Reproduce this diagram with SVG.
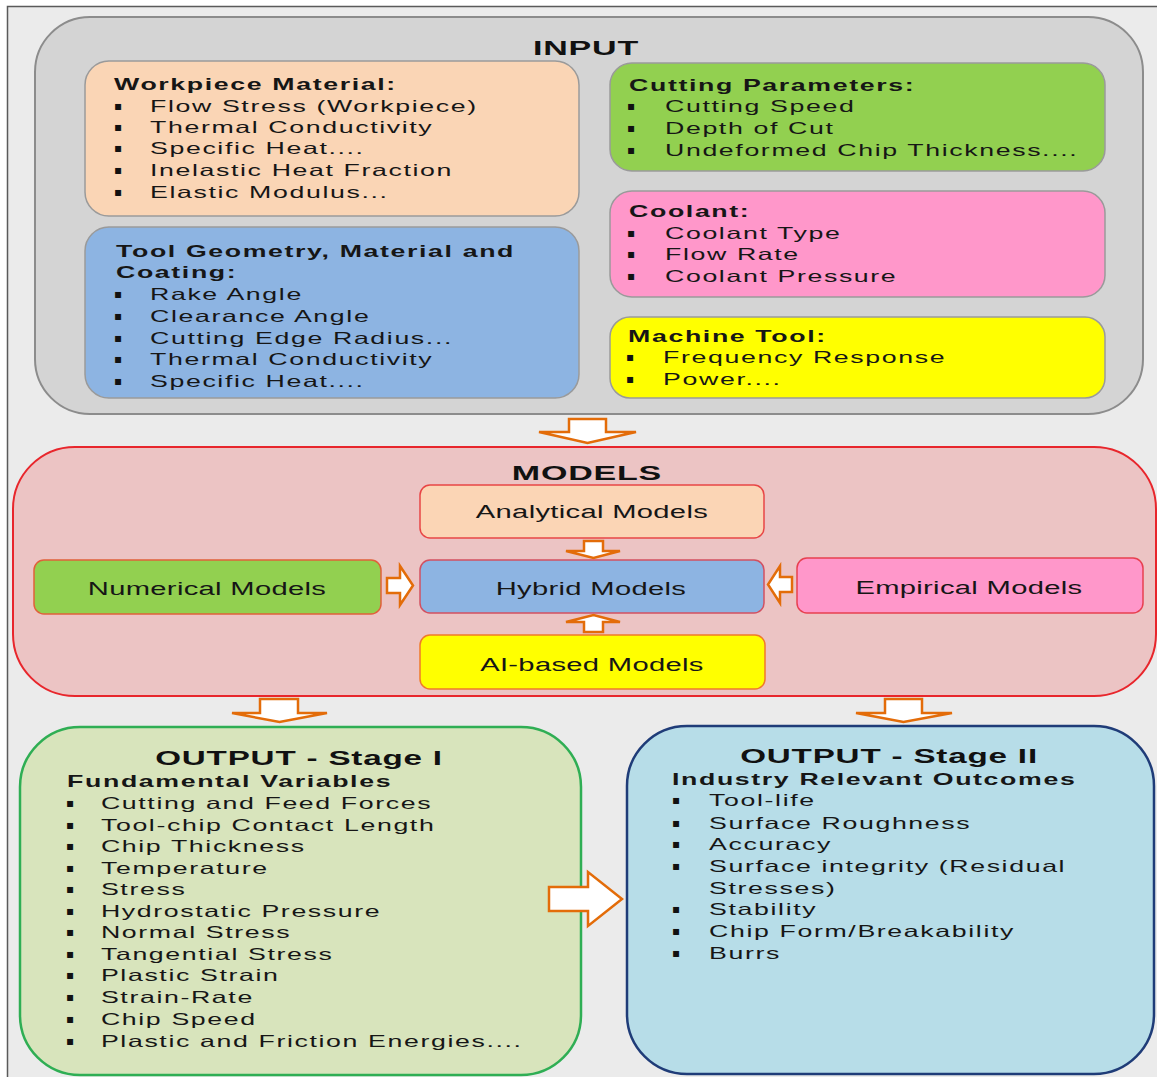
<svg xmlns="http://www.w3.org/2000/svg" width="1157" height="1077" viewBox="0 0 1157 1077">
<defs>
<style>
.t{font-family:"Liberation Sans",Arial,sans-serif;font-size:16.5px;letter-spacing:1px;fill:#161616}
.h{font-weight:bold}
.ttl{font-family:"Liberation Sans",Arial,sans-serif;font-size:21px;font-weight:bold;letter-spacing:0.5px;fill:#111;text-anchor:middle}
.ttl2{font-family:"Liberation Sans",Arial,sans-serif;font-size:20.5px;font-weight:bold;letter-spacing:0.5px;fill:#111;text-anchor:middle}
.m{font-family:"Liberation Sans",Arial,sans-serif;font-size:18px;letter-spacing:0.2px;fill:#161616;text-anchor:middle}
.bul{font-family:"DejaVu Sans",sans-serif;font-size:12px;fill:#111}
.box{stroke:#9a9a9a;stroke-width:1.5}
.arr{fill:#ffffff;stroke:#e36c09;stroke-width:2.5;stroke-linejoin:miter}
</style>
</defs>
<rect x="7.5" y="6.5" width="1160" height="1080" fill="#ebebeb" stroke="#5a5a5a" stroke-width="1.5"/>

<g id="input">
<rect x="35" y="17" width="1108" height="397" rx="55" fill="#d4d4d4" stroke="#8c8c8c" stroke-width="2"/>
<g transform="scale(1.62 1)"><text class="ttl" x="361.7" y="55">INPUT</text></g>
</g>

<g id="workpiece">
<rect class="box" x="85" y="61" width="494" height="155" rx="24" fill="#fad5b5"/>
<g transform="scale(1.62 1)">
<text class="t h" x="70.4" y="90">Workpiece Material:</text>
<text class="t" x="92.6" y="112">Flow Stress (Workpiece)</text>
<text class="t" x="92.6" y="133">Thermal Conductivity</text>
<text class="t" x="92.6" y="154">Specific Heat....</text>
<text class="t" x="92.6" y="176">Inelastic Heat Fraction</text>
<text class="t" x="92.6" y="198">Elastic Modulus...</text>
</g>
<text class="bul" x="114" y="110">▪</text><text class="bul" x="114" y="131">▪</text><text class="bul" x="114" y="152">▪</text><text class="bul" x="114" y="174">▪</text><text class="bul" x="114" y="196">▪</text>
</g>

<g id="tool">
<rect class="box" x="85" y="227" width="494" height="171" rx="24" fill="#8db4e2"/>
<g transform="scale(1.62 1)">
<text class="t h" x="71.6" y="257">Tool Geometry, Material and</text>
<text class="t h" x="71.6" y="278">Coating:</text>
<text class="t" x="92.6" y="300">Rake Angle</text>
<text class="t" x="92.6" y="322">Clearance Angle</text>
<text class="t" x="92.6" y="344">Cutting Edge Radius...</text>
<text class="t" x="92.6" y="365">Thermal Conductivity</text>
<text class="t" x="92.6" y="387">Specific Heat....</text>
</g>
<text class="bul" x="114" y="298">▪</text><text class="bul" x="114" y="320">▪</text><text class="bul" x="114" y="342">▪</text><text class="bul" x="114" y="363">▪</text><text class="bul" x="114" y="385">▪</text>
</g>

<g id="cutting">
<rect class="box" x="610" y="63" width="495" height="108" rx="22" fill="#92d050"/>
<g transform="scale(1.62 1)">
<text class="t h" x="388.3" y="91">Cutting Parameters:</text>
<text class="t" x="410.5" y="112">Cutting Speed</text>
<text class="t" x="410.5" y="134">Depth of Cut</text>
<text class="t" x="410.5" y="156">Undeformed Chip Thickness....</text>
</g>
<text class="bul" x="627" y="110">▪</text><text class="bul" x="627" y="132">▪</text><text class="bul" x="627" y="154">▪</text>
</g>

<g id="coolant">
<rect class="box" x="610" y="191" width="495" height="106" rx="22" fill="#ff97ca"/>
<g transform="scale(1.62 1)">
<text class="t h" x="388.3" y="217">Coolant:</text>
<text class="t" x="410.5" y="239">Coolant Type</text>
<text class="t" x="410.5" y="260">Flow Rate</text>
<text class="t" x="410.5" y="282">Coolant Pressure</text>
</g>
<text class="bul" x="627" y="237">▪</text><text class="bul" x="627" y="258">▪</text><text class="bul" x="627" y="280">▪</text>
</g>

<g id="machine">
<rect class="box" x="610" y="317" width="495" height="81" rx="20" fill="#ffff00"/>
<g transform="scale(1.62 1)">
<text class="t h" x="387.7" y="342">Machine Tool:</text>
<text class="t" x="409.3" y="363">Frequency Response</text>
<text class="t" x="409.3" y="385">Power....</text>
</g>
<text class="bul" x="626" y="361">▪</text><text class="bul" x="626" y="383">▪</text>
</g>

<g id="models">
<rect x="13" y="447" width="1143" height="249" rx="62" fill="#ecc4c4" stroke="#e8262c" stroke-width="2"/>
<g transform="scale(1.62 1)"><text class="ttl" x="362.3" y="480">MODELS</text></g>
</g>

<g id="analytical">
<rect x="420" y="485" width="344" height="53" rx="10" fill="#fbd5b5" stroke="#e84545" stroke-width="1.5"/>
<g transform="scale(1.62 1)"><text class="m" x="365.4" y="518">Analytical Models</text></g>
</g>
<g id="hybrid">
<rect x="420" y="560" width="344" height="53" rx="10" fill="#8db4e2" stroke="#d25060" stroke-width="1.5"/>
<g transform="scale(1.62 1)"><text class="m" x="364.8" y="595">Hybrid Models</text></g>
</g>
<g id="aibased">
<rect x="420" y="635" width="345" height="54" rx="10" fill="#ffff00" stroke="#f07a2a" stroke-width="1.5"/>
<g transform="scale(1.62 1)"><text class="m" x="365.4" y="671">AI-based Models</text></g>
</g>
<g id="numerical">
<rect x="34" y="560" width="347" height="54" rx="10" fill="#92d050" stroke="#e0603a" stroke-width="1.5"/>
<g transform="scale(1.62 1)"><text class="m" x="127.8" y="595">Numerical Models</text></g>
</g>
<g id="empirical">
<rect x="797" y="558" width="346" height="55" rx="10" fill="#ff97ca" stroke="#e84050" stroke-width="1.5"/>
<g transform="scale(1.62 1)"><text class="m" x="598.1" y="594">Empirical Models</text></g>
</g>

<g id="output1">
<rect x="20" y="727" width="561" height="348" rx="60" fill="#d8e4bc" stroke="#2fae54" stroke-width="2.5"/>
<g transform="scale(1.62 1)">
<text class="ttl2" x="184.6" y="765">OUTPUT - Stage I</text>
<text class="t h" x="41.4" y="787">Fundamental Variables</text>
<text class="t" x="62.3" y="809">Cutting and Feed Forces</text>
<text class="t" x="62.3" y="831">Tool-chip Contact Length</text>
<text class="t" x="62.3" y="852">Chip Thickness</text>
<text class="t" x="62.3" y="874">Temperature</text>
<text class="t" x="62.3" y="895">Stress</text>
<text class="t" x="62.3" y="917">Hydrostatic Pressure</text>
<text class="t" x="62.3" y="938">Normal Stress</text>
<text class="t" x="62.3" y="960">Tangential Stress</text>
<text class="t" x="62.3" y="981">Plastic Strain</text>
<text class="t" x="62.3" y="1003">Strain-Rate</text>
<text class="t" x="62.3" y="1025">Chip Speed</text>
<text class="t" x="62.3" y="1047">Plastic and Friction Energies....</text>
</g>
<text class="bul" x="66" y="807">▪</text><text class="bul" x="66" y="829">▪</text><text class="bul" x="66" y="850">▪</text><text class="bul" x="66" y="872">▪</text><text class="bul" x="66" y="893">▪</text><text class="bul" x="66" y="915">▪</text><text class="bul" x="66" y="936">▪</text><text class="bul" x="66" y="958">▪</text><text class="bul" x="66" y="979">▪</text><text class="bul" x="66" y="1001">▪</text><text class="bul" x="66" y="1023">▪</text><text class="bul" x="66" y="1045">▪</text>
</g>

<g id="output2">
<rect x="627" y="726" width="527" height="348" rx="60" fill="#b7dde8" stroke="#1f3c78" stroke-width="2.5"/>
<g transform="scale(1.62 1)">
<text class="ttl2" x="548.8" y="763">OUTPUT - Stage II</text>
<text class="t h" x="414.8" y="785">Industry Relevant Outcomes</text>
<text class="t" x="437.7" y="806">Tool-life</text>
<text class="t" x="437.7" y="829">Surface Roughness</text>
<text class="t" x="437.7" y="850">Accuracy</text>
<text class="t" x="437.7" y="872">Surface integrity (Residual</text>
<text class="t" x="437.7" y="894">Stresses)</text>
<text class="t" x="437.7" y="915">Stability</text>
<text class="t" x="437.7" y="937">Chip Form/Breakability</text>
<text class="t" x="437.7" y="959">Burrs</text>
</g>
<text class="bul" x="672" y="804">▪</text><text class="bul" x="672" y="827">▪</text><text class="bul" x="672" y="848">▪</text><text class="bul" x="672" y="870">▪</text><text class="bul" x="672" y="913">▪</text><text class="bul" x="672" y="935">▪</text><text class="bul" x="672" y="957">▪</text>
</g>

<g id="connectors">
<polygon class="arr" points="569,419 606,419 606,432 636,432 587.5,443 539,432 569,432"/>
<polygon class="arr" points="584,541 603,541 603,551 620,551 593.5,558 566,551 584,551"/>
<polygon class="arr" points="584,632 603,632 603,622 620,622 593.5,615 566,622 584,622"/>
<polygon class="arr" points="387,578 400,578 400,566 413,585.5 400,605 400,593 387,593"/>
<polygon class="arr" points="792,577 780,577 780,566 768,584.5 780,603 780,592 792,592"/>
<polygon class="arr" points="260,699 298,699 298,713 327,713 279.5,722 232,713 260,713"/>
<polygon class="arr" points="885,699 922,699 922,713 952,713 903.5,722 856,713 885,713"/>
<polygon class="arr" points="549,887 588,887 588,872 622,899 588,926 588,911 549,911"/>
</g>
</svg>
